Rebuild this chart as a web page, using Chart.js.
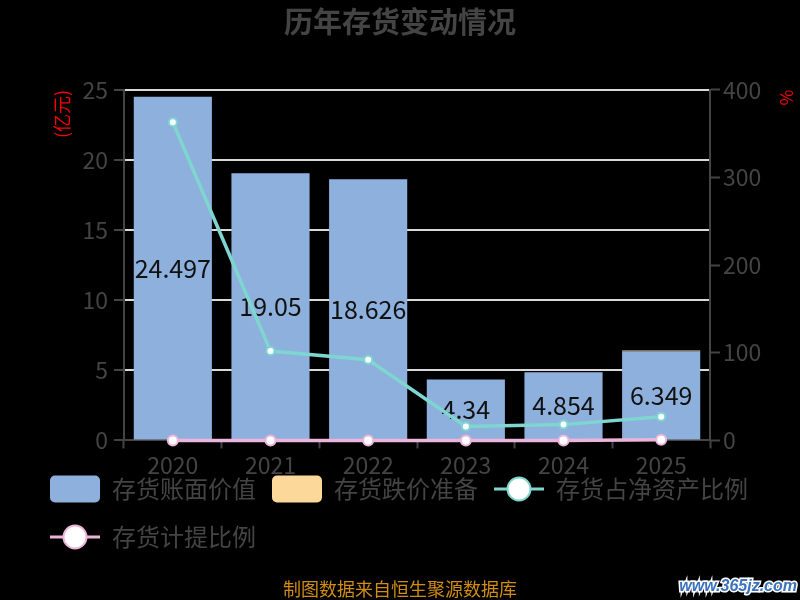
<!DOCTYPE html>
<html>
<head>
<meta charset="utf-8">
<script src="https://cdn.jsdelivr.net/npm/chart.js@4.4.1/dist/chart.umd.min.js"></script>
<style>
  html, body { margin: 0; padding: 0; background: #000; }
  #wrap { width: 800px; height: 600px; }
</style>
</head>
<body>
<div id="wrap"><canvas id="myChart"></canvas></div>
<script>
const years = ['2020', '2021', '2022', '2023', '2024', '2025'];
const bookValue = [24.497, 19.05, 18.626, 4.34, 4.854, 6.349];   // 存货账面价值 (亿元)
const impairment = [0, 0, 0, 0, 0, 0.07];                         // 存货跌价准备 (亿元)
const netAssetRatio = [363, 102, 92, 16, 18, 27];                 // 存货占净资产比例 (%)
const provisionRatio = [0, 0, 0, 0, 0, 0.8];                      // 存货计提比例 (%)
const leftTicks = [0, 5, 10, 15, 20, 25];
const rightTicks = [0, 100, 200, 300, 400];

Chart.defaults.font.family = '"Noto Sans CJK SC", "Noto Sans", sans-serif';

const blue = '#8eb0dc';
const orange = '#fdd89b';
const cyan = '#7fd5cf';
const pink = '#ebb5d9';

// value labels in the middle of the book value bars
const barLabels = {
  id: 'barLabels',
  afterDatasetDraw(chart, args) {
    if (args.index !== 0) return;
    const ctx = chart.ctx;
    ctx.save();
    ctx.font = '25px "Noto Sans CJK SC"';
    ctx.fillStyle = '#111';
    ctx.textAlign = 'center';
    ctx.textBaseline = 'middle';
    args.meta.data.forEach((bar, i) => {
      const p = bar.getProps(['x', 'y', 'base'], true);
      ctx.fillText(String(bookValue[i]), p.x, (p.y + p.base) / 2);
    });
    ctx.restore();
  }
};

// legend sits close under the year labels
const legendLift = {
  id: 'legendLift',
  afterLayout(chart) {
    const lg = chart.legend;
    if (!lg) return;
    const dy = lg.top - 457;
    lg.top -= dy;
    lg.bottom -= dy;
  }
};

// legend keys: rounded boxes for bars, line + circle for lines
const legendKeys = {
  id: 'legendKeys',
  afterDraw(chart) {
    const lg = chart.legend;
    if (!lg || !lg.legendHitBoxes) return;
    const ctx = chart.ctx;
    lg.legendHitBoxes.forEach((hb, i) => {
      const ds = chart.data.datasets[i];
      const cy = hb.top + hb.height / 2;
      const x = hb.left;
      ctx.save();
      if (ds.type === 'line') {
        ctx.strokeStyle = ds.borderColor;
        ctx.lineWidth = 3;
        ctx.beginPath();
        ctx.moveTo(x, cy);
        ctx.lineTo(x + 50, cy);
        ctx.stroke();
        ctx.beginPath();
        ctx.arc(x + 25, cy, 11.5, 0, Math.PI * 2);
        ctx.fillStyle = '#fff';
        ctx.fill();
        ctx.lineWidth = 2;
        ctx.stroke();
      } else {
        ctx.fillStyle = ds.backgroundColor;
        ctx.beginPath();
        ctx.roundRect(x, cy - 13.5, 50, 27, 5);
        ctx.fill();
      }
      ctx.restore();
    });
  }
};

const watermark = {
  id: 'watermark',
  beforeDraw(chart) {
    const ctx = chart.ctx;
    ctx.save();
    ctx.fillStyle = '#000';
    ctx.fillRect(0, 0, chart.width, chart.height);
    ctx.restore();
  },
  afterDraw(chart) {
    const ctx = chart.ctx;
    ctx.save();
    ctx.font = 'italic bold 16px "Liberation Sans"';
    ctx.textAlign = 'right';
    ctx.textBaseline = 'alphabetic';
    ctx.lineWidth = 3;
    ctx.strokeStyle = '#fff';
    ctx.strokeText('www.365jz.com', 797, 591);
    ctx.fillStyle = '#3a72bd';
    ctx.fillText('www.365jz.com', 797, 591);
    ctx.restore();
  }
};

const data = {
  labels: years,
  datasets: [
    {
      type: 'bar',
      label: '存货账面价值',
      data: bookValue,
      backgroundColor: blue,
      borderWidth: 0,
      yAxisID: 'y',
      order: 1
    },
    {
      type: 'bar',
      label: '存货跌价准备',
      data: impairment,
      backgroundColor: orange,
      borderWidth: 0,
      yAxisID: 'y',
      order: 1
    },
    {
      type: 'line',
      label: '存货占净资产比例',
      data: netAssetRatio,
      borderColor: cyan,
      borderWidth: 3.5,
      pointRadius: 4,
      pointBackgroundColor: '#fff',
      pointBorderColor: cyan,
      pointBorderWidth: 2,
      clip: false,
      yAxisID: 'pct',
      order: 0
    },
    {
      type: 'line',
      label: '存货计提比例',
      data: provisionRatio,
      borderColor: pink,
      borderWidth: 3.5,
      pointRadius: 5,
      pointBackgroundColor: '#fff',
      pointBorderColor: pink,
      pointBorderWidth: 2,
      clip: false,
      yAxisID: 'pct',
      order: 0
    }
  ]
};

const config = {
  type: 'bar',
  data,
  options: {
    responsive: true,
    maintainAspectRatio: false,
    animation: false,
    devicePixelRatio: 1,
    layout: {padding: {left: 34, right: 34, top: 0, bottom: 0}},
    datasets: {bar: {categoryPercentage: 0.8, barPercentage: 1}},
    plugins: {
      title: {
        display: true,
        text: '历年存货变动情况',
        color: '#444',
        font: {size: 29, weight: 'bold'},
        padding: {top: 5, bottom: 50}
      },
      subtitle: {
        display: true,
        position: 'bottom',
        text: '制图数据来自恒生聚源数据库',
        color: '#d08c14',
        font: {size: 18},
        padding: {top: -8, bottom: 0}
      },
      legend: {
        position: 'bottom',
        align: 'start',
        labels: {
          boxWidth: 50,
          boxHeight: 32,
          padding: 16,
          color: '#444',
          font: {size: 24},
          generateLabels(chart) {
            return chart.data.datasets.map((ds, i) => ({
              text: ds.label,
              fillStyle: 'rgba(0,0,0,0)',
              strokeStyle: 'rgba(0,0,0,0)',
              lineWidth: 0,
              fontColor: '#444',
              hidden: !chart.isDatasetVisible(i),
              datasetIndex: i
            }));
          }
        }
      },
      tooltip: {enabled: false}
    },
    scales: {
      x: {
        stacked: true,
        offset: true,
        border: {color: '#444', width: 2},
        grid: {drawOnChartArea: false, drawTicks: true, tickLength: 8, tickColor: '#444', tickWidth: 2, offset: true},
        ticks: {color: '#444', font: {size: 23}, padding: 3},
        afterFit(s) { s.height = 40; }
      },
      y: {
        position: 'left',
        stacked: true,
        min: leftTicks[0],
        max: leftTicks[leftTicks.length - 1],
        ticks: {stepSize: leftTicks[1] - leftTicks[0], color: '#444', font: {size: 23}, padding: 6},
        grid: {
          color: (c) => (c.tick && c.tick.value === 0 ? '#444' : '#d9d9d9'),
          lineWidth: 2,
          tickColor: '#444',
          tickLength: 10,
          tickWidth: 2
        },
        border: {color: '#444', width: 2},
        title: {display: true, text: '(亿元)', color: '#ff0000', font: {size: 18}, align: 'end', padding: {top: 17, bottom: 0}},
        afterFit(s) { s.width = 90; }
      },
      pct: {
        position: 'right',
        min: rightTicks[0],
        max: rightTicks[rightTicks.length - 1],
        ticks: {stepSize: rightTicks[1] - rightTicks[0], color: '#444', font: {size: 23}, padding: 3},
        grid: {drawOnChartArea: false, tickColor: '#444', tickLength: 10, tickWidth: 2},
        border: {color: '#444', width: 2},
        title: {display: true, text: '%', color: '#ff0000', font: {size: 17}, align: 'end', padding: {top: -31, bottom: 0}},
        afterFit(s) { s.width = 56; }
      }
    }
  },
  plugins: [watermark, barLabels, legendLift, legendKeys]
};

const myChart = new Chart(
  document.getElementById('myChart'),
  config
);
</script>
</body>
</html>
